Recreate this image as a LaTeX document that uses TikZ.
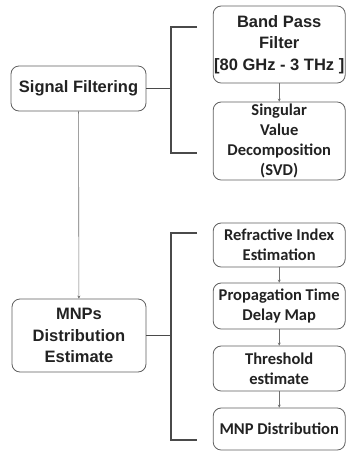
\documentclass[tikz,border=0pt]{standalone}
\usepackage{fontspec}
\setmainfont{Liberation Sans}
\newfontfamily\calfont{Carlito}
\usetikzlibrary{arrows.meta}
\definecolor{boxline}{HTML}{606060}
\definecolor{brk}{HTML}{4A4A4A}
\definecolor{arr}{HTML}{707070}
\definecolor{txt}{HTML}{222222}
\begin{document}
\begin{tikzpicture}[x=1pt,y=-1pt,
  box/.style={draw=boxline,line width=0.8pt,rounded corners=8pt,inner sep=0pt,
    align=center,text=txt,font=\fontsize{16.5}{21.5}\selectfont\bfseries},
  cbox/.style={box,font=\fontsize{16.5}{20}\selectfont\calfont\bfseries},
  bracket/.style={draw=brk,line width=1.3pt},
  flow/.style={draw=arr,line width=0.6pt,-{Stealth[length=3pt,width=3pt]}}]
\useasboundingbox (0,0) rectangle (346,451);
\fill[white] (0,0) rectangle (346,451);
% left nodes
\node[box,minimum width=135pt,minimum height=45pt] (sf) at (78.5,88.5) {Signal Filtering};
\node[box,minimum width=134pt,minimum height=73pt] (mnps) at (79,335.5) {MNPs\\Distribution\\Estimate};
% upper right
\node[box,minimum width=132pt,minimum height=77pt] (bpf) at (279.2,44.5) {Band Pass\\Filter\\{[80 GHz - 3 THz ]}};
\node[cbox,minimum width=132pt,minimum height=78pt] (svd) at (279.2,141) {Singular\\Value\\Decomposition\\(SVD)};
% lower right
\node[cbox,minimum width=132pt,minimum height=44pt] (rie) at (279.2,245) {Refractive Index\\Estimation};
\node[cbox,minimum width=132pt,minimum height=46pt] (ptd) at (279.2,306) {Propagation Time\\Delay Map};
\node[cbox,minimum width=132pt,minimum height=45pt] (thr) at (279.2,368.5) {Threshold\\estimate};
\node[cbox,minimum width=132pt,minimum height=42pt] (mnp) at (279.2,429) {MNP Distribution};
% bracket coordinates
\coordinate (ua) at (197,27);
\coordinate (ub) at (197,153);
\coordinate (uj) at (171,88.5);
\coordinate (la) at (197,233);
\coordinate (lb) at (197,440);
\coordinate (lj) at (171,335.5);
\draw[bracket] (ua) -| (uj |- ub) -- (ub);
\draw[bracket] (sf.east) -- (uj);
\draw[bracket] (la) -| (lj |- lb) -- (lb);
\draw[bracket] (mnps.east) -- (lj);
% arrows
\draw[flow] (bpf) -- (svd);
\draw[flow] (rie) -- (ptd);
\draw[flow] (ptd) -- (thr);
\draw[flow] (thr) -- (mnp);
\draw[flow] (sf) -- (mnps);
\end{tikzpicture}
\end{document}
